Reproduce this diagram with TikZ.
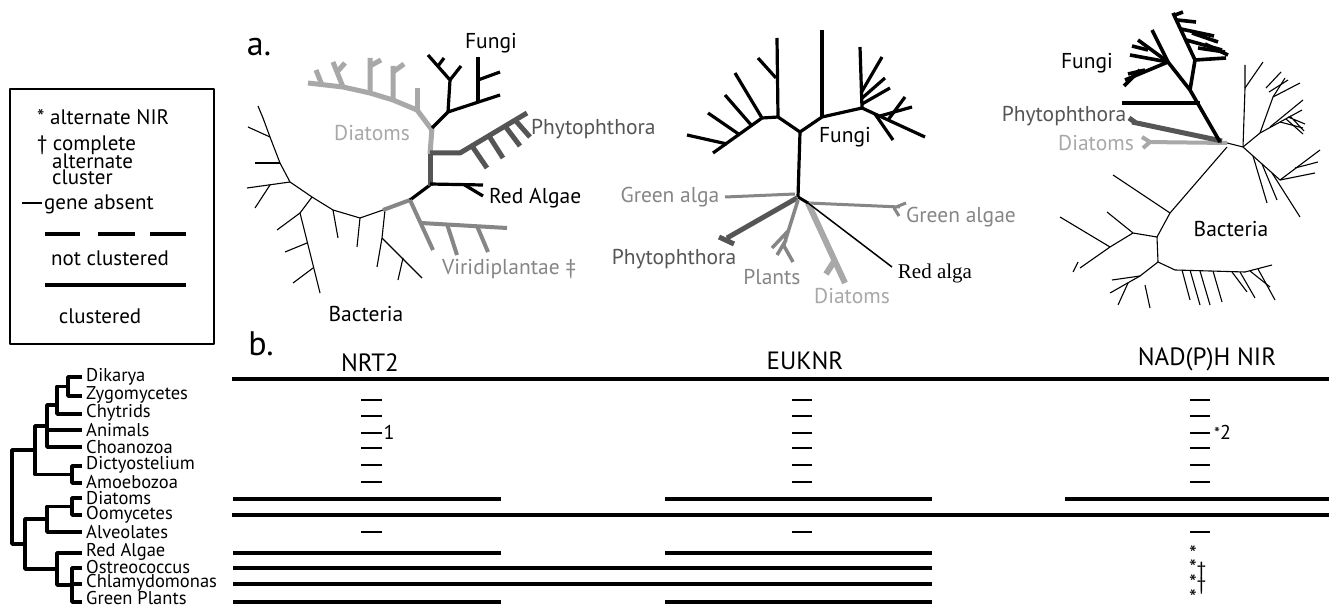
\documentclass[tikz,border=0pt]{standalone}
\usepackage{fontspec}
\setmainfont{PT Sans}
\newfontfamily\seriffont{Liberation Serif}
\definecolor{lg}{HTML}{A8A8A8}
\definecolor{mg}{HTML}{868686}
\definecolor{dg}{HTML}{555555}
\begin{document}
\begin{tikzpicture}[x=1pt,y=-1pt,line join=round,
  thinbr/.style={line width=1.1pt,black},
  blk/.style={line width=3.2pt,black},
  lgb/.style={line width=5pt,lg},
  mgb/.style={line width=4pt,mg},
  dgb/.style={line width=5pt,dg},
  lbl/.style={inner sep=0pt,font=\fontsize{21.5}{21.5}\selectfont},
  leg/.style={inner sep=0pt,font=\fontsize{21}{21}\selectfont},
  clad/.style={inner sep=0pt,anchor=west,font=\fontsize{18.5}{18.5}\selectfont},
  hdr/.style={inner sep=0pt,font=\fontsize{25}{25}\selectfont},
  big/.style={inner sep=0pt,font=\fontsize{34}{34}\selectfont},
  ctree/.style={line width=3.8pt,black},
  bar/.style={line width=3.5pt,black},
  gap/.style={line width=2.5pt,black},
  note/.style={inner sep=0pt,font=\fontsize{20}{20}\selectfont},
  ast/.style={inner sep=0pt,anchor=base west,text height=10pt,text depth=0pt,font=\fontsize{22}{22}\selectfont}]
\useasboundingbox (0,0) rectangle (1329,609);
\fill[white] (0,0) rectangle (1329,609);

% ---------------- legend box ----------------
\draw[line width=2pt] (10,89) rectangle (214,344);
\node[leg,anchor=west] (l1) at (37,117) {* alternate NIR};
\node[leg,anchor=west] (l2) at (37,145) {† complete};
\node[leg,anchor=west] (l3) at (52,161) {alternate};
\node[leg,anchor=west] (l4) at (52,177) {cluster};
\draw[gap] (22,203) -- (42,203);
\node[leg,anchor=west] (l5) at (44,204) {gene absent};
\draw[line width=4pt] (45,234) -- (80,234) (98,234) -- (135,234) (150,234) -- (186,234);
\node[leg] (l6) at (110,258) {not clustered};
\draw[line width=4pt] (45,285) -- (186,285);
\node[leg] (l7) at (100,316) {clustered};

% ---------------- panel labels ----------------
\node[big] (pa) at (259,47) {a.};
\node[big] (pb) at (261,344) {b.};

% ---------------- tree 1 ----------------
% bacteria ring
\draw[thinbr] (263,118) -- (270,137) -- (280,163) -- (290,182) -- (312,197) -- (333,210) -- (360,218) -- (383,210);
\draw[thinbr] (270,137) -- (248,127);
\draw[thinbr] (263,118) -- (258,106);
\draw[thinbr] (280,163) -- (255,163);
\draw[thinbr] (290,182) -- (247,188);
\draw[thinbr] (270,185) -- (255,208);
\draw[thinbr] (312,197) -- (300,213) -- (320,293);
\draw[thinbr] (300,213) -- (277,230);
\draw[thinbr] (307,243) -- (285,252);
\draw[thinbr] (313,268) -- (293,283);
\draw[thinbr] (333,210) -- (338,238);
\draw[thinbr] (360,218) -- (357,247);
\draw[thinbr] (385,210) -- (382,238) -- (377,267);
\draw[thinbr] (382,238) -- (422,278);
\draw[thinbr] (403,258) -- (398,280);
% coloured ring parts
\draw[mgb] (383,210) -- (410,200);
\draw[blk] (410,200) -- (430,185);
\draw[dgb] (430,186) -- (430,152);
\draw[lgb] (430,154) -- (432,128);
% diatoms
\draw[lgb] (432,130) -- (417,110) -- (393,100) -- (370,93) -- (343,87) -- (308,83);
\draw[lgb] (417,110) -- (417,88);
\draw[lgb] (393,100) -- (393,66) (393,72) -- (404,64);
\draw[lgb] (370,93) -- (370,58) (370,66) -- (381,60);
\draw[lgb] (343,87) -- (333,62) (337,72) -- (345,63);
\draw[lgb] (322,85) -- (316,70);
% fungi
\draw[blk] (432,128) -- (448,112) -- (500,95);
\draw[blk] (448,112) -- (450,80) -- (428,55);
\draw[blk] (450,80) -- (461,66);
\draw[blk] (438,66) -- (444,58);
\draw[blk] (478,103) -- (478,57);
\draw[blk] (478,80) -- (500,72);
% phytophthora
\draw[dgb] (430,153) -- (460,153) -- (527,113);
\draw[dgb] (472,146) -- (487,168);
\draw[dgb] (489,136) -- (503,158);
\draw[dgb] (505,126) -- (520,146);
\draw[dgb] (515,120) -- (530,137);
% red algae
\draw[blk] (430,184) -- (483,185);
\draw[blk] (463,184) -- (483,196);
% viridiplantae
\draw[mgb] (410,200) -- (433,250);
\draw[mgb] (421,223) -- (507,228);
\draw[mgb] (447,224) -- (457,255);
\draw[mgb] (477,226) -- (488,252);
% labels
\node[lbl] (t1f) at (491,43) {Fungi};
\node[lbl,text=lg] (t1d) at (372,133) {Diatoms};
\node[lbl,anchor=west,text=dg] (t1p) at (531,129) {Phytophthora};
\node[lbl,anchor=west] (t1r) at (489,198) {Red Algae};
\node[lbl,anchor=west,text=mg] (t1v) at (442,269) {Viridiplantae ‡};
\node[lbl] (t1b) at (366,314) {Bacteria};

% ---------------- tree 2 ----------------
\draw[blk] (798,197) -- (800,132);
\draw[blk] (800,132) -- (778,117) -- (762,118) -- (713,153);
\draw[blk] (778,117) -- (777,38);
\draw[blk] (776,78) -- (758,58);
\draw[blk] (762,118) -- (735,73);
\draw[blk] (752,126) -- (725,95);
\draw[blk] (740,135) -- (708,113);
\draw[blk] (727,144) -- (687,135);
\draw[blk] (800,132) -- (822,117) -- (862,108);
\draw[blk] (822,117) -- (822,30);
\draw[blk] (862,108) -- (860,47);
\draw[blk] (861,93) -- (882,57);
\draw[blk] (861,99) -- (885,78);
\draw[blk] (862,104) -- (890,88);
\draw[blk] (862,108) -- (925,137);
\draw[blk] (880,116) -- (912,107);
\draw[blk] (888,120) -- (905,97);
\draw[blk] (875,114) -- (893,140);
\draw[mg,line width=3pt] (808,203) -- (900,207) (896,207) -- (906,203) (894,208) -- (899,216);
\draw[mg,line width=3pt] (795,194) -- (725,197);
\draw[dgb] (797,198) -- (727,238) (719,237) -- (734,244);
\draw[mg,line width=3.5pt] (798,200) -- (783,248) (789,230) -- (772,248) (786,240) -- (777,255) (784,246) -- (793,262);
\draw[lg,line width=6pt] (808,203) -- (845,283) (835,260) -- (826,274);
\draw[line width=3pt] (798,197) -- (808,203);
\draw[line width=1.5pt] (808,203) -- (892,267);
\node[lbl] (t2f) at (845,137) {Fungi};
\node[lbl,text=mg] (t2ga) at (670,197) {Green alga};
\node[lbl,anchor=west,text=mg] (t2gb) at (906,217) {Green algae};
\node[lbl,text=dg] (t2p) at (674,259) {Phytophthora};
\node[lbl,text=mg] (t2pl) at (772,277) {Plants};
\node[lbl,text=lg] (t2d) at (852,296) {Diatoms};
\node[inner sep=0pt,font=\seriffont\fontsize{21}{21}\selectfont] (t2r) at (935,273) {Red alga};

% ---------------- tree 3 ----------------
% bacteria
\draw[thinbr] (1227,143) -- (1243,147);
\draw[thinbr] (1243,147) -- (1245,88) -- (1245,65);
\draw[thinbr] (1245,88) -- (1263,62);
\draw[thinbr] (1243,147) -- (1260,133) -- (1302,110);
\draw[thinbr] (1260,133) -- (1273,97) -- (1300,83);
\draw[thinbr] (1273,97) -- (1285,78);
\draw[thinbr] (1266,88) -- (1281,72) (1269,92) -- (1288,80);
\draw[thinbr] (1270,127) -- (1303,100);
\draw[thinbr] (1280,122) -- (1303,128);
\draw[thinbr] (1288,117) -- (1305,124) (1290,116) -- (1304,131) (1286,119) -- (1303,134);
\draw[thinbr] (1243,147) -- (1280,180) -- (1320,150);
\draw[thinbr] (1280,180) -- (1315,173);
\draw[thinbr] (1295,168) -- (1318,162);
\draw[thinbr] (1253,156) -- (1267,203);
\draw[thinbr] (1262,164) -- (1277,200);
\draw[thinbr] (1272,173) -- (1300,217);
\draw[thinbr] (1227,147) -- (1170,213) -- (1113,175);
\draw[thinbr] (1170,213) -- (1157,237) -- (1133,233) -- (1107,212);
\draw[thinbr] (1133,233) -- (1110,247) -- (1060,217);
\draw[thinbr] (1110,247) -- (1080,268);
\draw[thinbr] (1078,262) -- (1073,272);
\draw[thinbr] (1157,237) -- (1158,262) -- (1140,276) -- (1110,293);
\draw[thinbr] (1140,276) -- (1112,280);
\draw[thinbr] (1128,283) -- (1118,305);
\draw[thinbr] (1145,285) -- (1150,308);
\draw[thinbr] (1158,262) -- (1175,270) -- (1245,272) -- (1272,265);
\draw[thinbr] (1182,270) -- (1190,300);
\draw[thinbr] (1190,270) -- (1200,305);
\draw[thinbr] (1200,271) -- (1210,305);
\draw[thinbr] (1213,271) -- (1222,302);
\draw[thinbr] (1232,272) -- (1247,292);
\draw[thinbr] (1240,272) -- (1255,298);
\draw[thinbr] (1250,271) -- (1270,287);
\draw[thinbr] (1258,269) -- (1275,300);
% diatoms, phytophthora
\draw[lg,line width=4pt] (1227,143) -- (1147,142) (1150,142) -- (1142,137) (1150,142) -- (1143,148);
\draw[dgb] (1222,141) -- (1132,122) (1136,123) -- (1129,118);
% fungi
\begin{scope}[blk,line width=3.6pt]
\draw (1220,142) -- (1190,90);
\draw (1200,103) -- (1122,103);
\draw (1190,90) -- (1168,62);
\draw (1168,62) -- (1125,80);
\draw (1168,62) -- (1130,55);
\draw (1168,62) -- (1138,40);
\draw (1168,62) -- (1152,30);
\draw (1140,70) -- (1124,86);
\draw (1148,50) -- (1132,46);
\draw (1145,70) -- (1128,74);
\draw (1190,90) -- (1195,60) -- (1173,13);
\draw (1195,60) -- (1226,58);
\draw (1186,40) -- (1222,50);
\draw (1181,29) -- (1214,36);
\draw (1177,20) -- (1196,22);
\draw (1205,44) -- (1228,55);
\draw (1192,33) -- (1218,42);
\draw (1198,48) -- (1225,52);
\draw (1175,15) -- (1183,12);
\end{scope}
\node[lbl] (t3f) at (1087,63) {Fungi};
\node[lbl,text=dg] (t3p) at (1064,116) {Phytophthora};
\node[lbl,text=lg] (t3d) at (1096,143) {Diatoms};
\node[lbl] (t3b) at (1231,229) {Bacteria};

% ---------------- cladogram ----------------
\foreach \n/\t/\y in {c1/Dikarya/377,c2/Zygomycetes/395,c3/Chytrids/413,c4/Animals/430,c5/Choanozoa/447,c6/Dictyostelium/465,c7/Amoebozoa/482,c8/Diatoms/498,c9/Oomycetes/515,c10/Alveolates/532,c11/Red Algae/552,c12/Ostreococcus/567,c13/Chlamydomonas/583,c14/Green Plants/598}
  \node[clad] (\n) at (86,\y) {\t};
\draw[ctree] (82,377) -- (68,377) -- (68,396) -- (82,396);
\draw[ctree] (68,386.5) -- (57,386.5) -- (57,414) -- (82,414);
\draw[ctree] (57,405) -- (47,405) -- (47,447) -- (82,447);
\draw[ctree] (47,430) -- (82,430);
\draw[ctree] (82,466) -- (72,466) -- (72,483) -- (82,483);
\draw[ctree] (47,426) -- (35,426) -- (35,474.5) -- (72,474.5);
\draw[ctree] (82,498) -- (72,498) -- (72,515) -- (82,515);
\draw[ctree] (72,506.5) -- (47,506.5) -- (47,532) -- (82,532);
\draw[ctree] (82,568) -- (72,568) -- (72,602) -- (82,602);
\draw[ctree] (72,584) -- (82,584);
\draw[ctree] (82,553) -- (57,553) -- (57,585) -- (72,585);
\draw[ctree] (47,519) -- (25,519) -- (25,569) -- (57,569);
\draw[ctree] (35,450) -- (12,450) -- (12,544) -- (25,544);

% ---------------- table ----------------
\node[hdr] (h1) at (370,363) {NRT2};
\node[hdr] (h2) at (805,361) {EUKNR};
\node[hdr] (h3) at (1207,359) {NAD(P)H NIR};
\draw[bar] (232,379) -- (1329,379);
\foreach \y in {400,416,433,448,465,482} {
  \draw[gap] (361,\y) -- (382,\y);
  \draw[gap] (792,\y) -- (812,\y);
  \draw[gap] (1190,\y) -- (1210,\y);
}
\draw[gap] (361,532) -- (382,532);
\draw[gap] (792,532) -- (812,532);
\draw[gap] (1190,532) -- (1210,532);
\node[note] (n1) at (389,432) {1};
\node[note,anchor=west] (n2) at (1214,432) {{\fontsize{17}{17}\selectfont *}2};
% full rows
\draw[bar] (233,499) -- (501,499);
\draw[bar] (665,499) -- (932,499);
\draw[bar] (1065,499) -- (1329,499);
\draw[bar] (232,515) -- (1329,515);
\draw[bar] (233,553) -- (501,553);
\draw[bar] (665,553) -- (932,553);
\draw[bar] (233,568) -- (932,568);
\draw[bar] (233,584) -- (932,584);
\draw[bar] (233,602) -- (501,602);
\draw[bar] (665,602) -- (932,602);
\node[ast] (s1) at (1189,561) {*};
\node[ast] (s2) at (1189,575) {*{\fontsize{19}{19}\selectfont†}};
\node[ast] (s3) at (1189,590) {*{\fontsize{19}{19}\selectfont†}};
\node[ast] (s4) at (1189,605) {*};
\end{tikzpicture}
\end{document}
